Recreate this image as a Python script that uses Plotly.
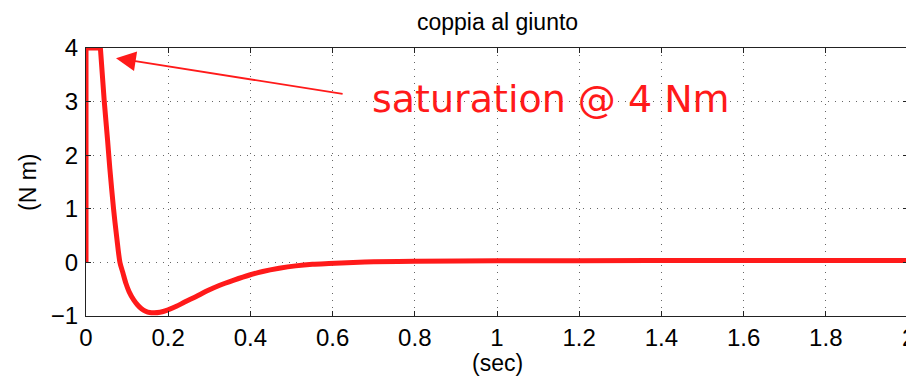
import plotly.graph_objects as go

# time (s) and joint torque (N m)
t = [0, 0, 0.035, 0.0445, 0.0525, 0.058, 0.067, 0.075, 0.0826, 0.09, 0.097, 0.105, 0.116,
     0.125, 0.135, 0.145, 0.155, 0.166, 0.18, 0.198, 0.22, 0.24, 0.267, 0.295, 0.324, 0.36,
     0.398, 0.43, 0.47, 0.51, 0.551, 0.591, 0.65, 0.70, 0.80, 1.0, 1.2, 1.5, 2.0]
torque = [0, 4, 4, 3.0, 2.28, 1.75, 1.0, 0.45, 0.0, -0.2, -0.39, -0.55, -0.70,
          -0.79, -0.865, -0.91, -0.935, -0.94, -0.93, -0.89, -0.82, -0.74, -0.64, -0.53, -0.43, -0.33,
          -0.235, -0.17, -0.11, -0.065, -0.035, -0.02, 0.0, 0.01, 0.02, 0.03, 0.033, 0.035, 0.035]

x_ticks = [0, 0.2, 0.4, 0.6, 0.8, 1, 1.2, 1.4, 1.6, 1.8, 2]
x_tick_labels = ["0", "0.2", "0.4", "0.6", "0.8", "1", "1.2", "1.4", "1.6", "1.8", "2"]
y_ticks = [-1, 0, 1, 2, 3, 4]
y_tick_labels = ["\u22121", "0", "1", "2", "3", "4"]

title_text = "coppia al giunto"
x_label = "(sec)"
y_label = "(N m)"
note_text = "saturation @ 4 Nm"
note_pos = (1.131, 3.04)
arrow_tip = (0.073, 3.81)
arrow_tail = (0.628, 3.14)

red = "#ff1a1a"
font = "Liberation Sans, Arial, Helvetica, sans-serif"
tick_size = 24

fig = go.Figure()
# saturated start (step + flat part), then the smooth transient
fig.add_trace(go.Scatter(x=t[:3], y=torque[:3], mode="lines",
                         line=dict(color=red, width=5), showlegend=False))
fig.add_trace(go.Scatter(x=t[2:], y=torque[2:], mode="lines",
                         line=dict(color=red, width=5, shape="spline", smoothing=0.8),
                         showlegend=False))

axis_common = dict(
    showline=True, linecolor="#222222", linewidth=1.2, mirror="ticks",
    ticks="inside", ticklen=5, tickcolor="#222222",
    showgrid=True, gridcolor="#666666", gridwidth=1, griddash="1px,6px",
    zeroline=False, automargin=False,
    tickfont=dict(family=font, size=tick_size, color="black"),
)

# last x label (2) drawn separately since it sits on the window edge
fig.update_xaxes(range=[0, 2], tickvals=x_ticks, ticktext=x_tick_labels[:-1] + [""], **axis_common)
fig.update_yaxes(range=[-1, 4], tickvals=y_ticks, ticktext=y_tick_labels,
                 ticklabelstandoff=2, **axis_common)

fig.add_annotation(x=x_ticks[-1], y=0, xref="x", yref="paper", yshift=-21,
                   text=x_tick_labels[-1], showarrow=False, xanchor="center", yanchor="middle",
                   font=dict(family=font, size=tick_size, color="black"))

fig.add_annotation(x=arrow_tip[0], y=arrow_tip[1], ax=arrow_tail[0], ay=arrow_tail[1],
                   xref="x", yref="y", axref="x", ayref="y", text="",
                   showarrow=True, arrowhead=2, arrowsize=2.2, arrowwidth=1.8, arrowcolor=red)
fig.add_annotation(x=note_pos[0], y=note_pos[1], xref="x", yref="y", text=note_text,
                   showarrow=False, xanchor="center", yanchor="middle",
                   font=dict(family="DejaVu Sans, Verdana, sans-serif", size=38, color=red))

# titles
fig.add_annotation(x=0.5, y=1.097, xref="paper", yref="paper", text=title_text,
                   showarrow=False, xanchor="center", yanchor="middle",
                   font=dict(family=font, size=23, color="black"))
fig.add_annotation(x=0.5, y=-0.175, xref="paper", yref="paper", text=x_label,
                   showarrow=False, xanchor="center", yanchor="middle",
                   font=dict(family=font, size=23, color="black"))
fig.add_annotation(x=-0.0706, y=0.5, xref="paper", yref="paper", text=y_label, textangle=-90,
                   showarrow=False, xanchor="center", yanchor="middle",
                   font=dict(family=font, size=23, color="black"))

# the page body adds an 8px offset, so the figure is sized to end at the window edge
fig.update_layout(
    width=906, height=370,
    margin=dict(l=78, r=6, t=40, b=62),
    paper_bgcolor="white", plot_bgcolor="white",
)

fig.write_html("out.html")
